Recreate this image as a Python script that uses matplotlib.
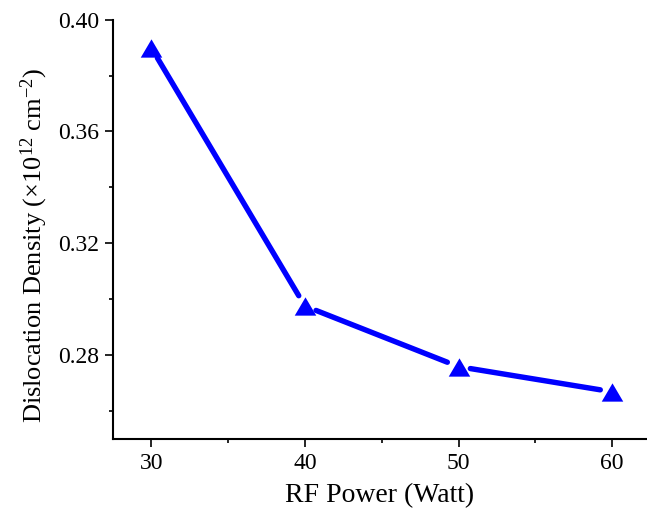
import numpy as np
import matplotlib
matplotlib.use("Agg")
import matplotlib.pyplot as plt
from matplotlib.ticker import MultipleLocator

# RF power sweep vs dislocation density
rf_power = [30, 40, 50, 60]
dislocation_density = [0.390, 0.2975, 0.2758, 0.2668]

plt.rcParams['font.family'] = ['Liberation Serif', 'DejaVu Serif']
plt.rcParams['mathtext.fontset'] = 'custom'
plt.rcParams['mathtext.rm'] = 'Liberation Serif'
plt.rcParams['mathtext.it'] = 'Liberation Serif:italic'

BLUE = '#0000FF'
DPI = 100
GAP_PX = 12

fig = plt.figure(figsize=(6.47, 5.11), dpi=DPI, facecolor='white')
ax = fig.add_axes([0.1742, 0.1415, 0.8258, 0.8199])

ax.set_xlim(27.49, 62.27)
ax.set_ylim(0.25, 0.40)

# segments between markers, trimmed so they stop short of each triangle
pts = ax.transData.transform(np.column_stack([rf_power, dislocation_density]))
inv = ax.transData.inverted()
for p0, p1 in zip(pts[:-1], pts[1:]):
    d = p1 - p0
    u = d / np.hypot(*d)
    seg = inv.transform(np.array([p0 + u * GAP_PX, p1 - u * GAP_PX]))
    ax.plot(seg[:, 0], seg[:, 1], color=BLUE, lw=3.9, solid_capstyle='round')

tri = [(0, 0.85), (-1, -0.85), (1, -0.85)]
ax.plot(rf_power, dislocation_density, linestyle='none', marker=tri,
        markersize=15.5, color=BLUE, markeredgewidth=0)

ax.spines['top'].set_visible(False)
ax.spines['right'].set_visible(False)
for s in ('left', 'bottom'):
    ax.spines[s].set_linewidth(1.5)

ax.xaxis.set_major_locator(MultipleLocator(10))
ax.xaxis.set_minor_locator(MultipleLocator(5))
ax.set_yticks([0.28, 0.32, 0.36, 0.40])
ax.set_yticks([0.26, 0.30, 0.34, 0.38], minor=True)
ax.yaxis.set_major_formatter(plt.FuncFormatter(lambda v, _: f"{v:.2f}"))

ax.tick_params(which='major', direction='out', length=5.5, width=1.2,
               labelsize=17, pad=4)
ax.tick_params(which='minor', direction='out', length=3, width=1.2)
ax.tick_params(axis='x', which='major', pad=5)

ax.set_xlabel('RF Power (Watt)', fontsize=20, labelpad=6)
ax.set_ylabel(r'Dislocation Density ($\times$10$^{12}$ cm$^{-2}$)',
              fontsize=19, labelpad=6)
ax.yaxis.label.set_y(0.462)

fig.savefig('out.png', dpi=DPI, facecolor='white')
